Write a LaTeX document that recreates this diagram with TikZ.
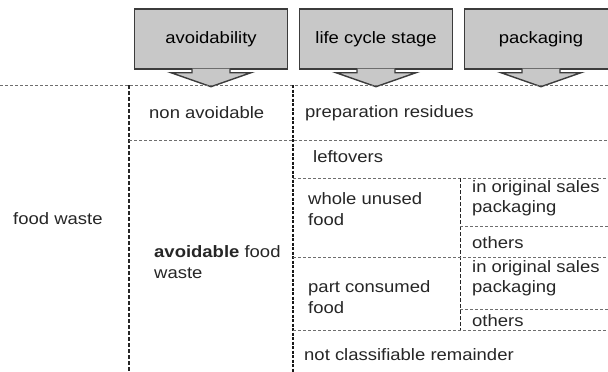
\documentclass[tikz,border=0pt]{standalone}
\usepackage{fontspec}
\setmainfont[FakeStretch=1.12]{Liberation Sans}
\usetikzlibrary{calc}
\definecolor{hdrfill}{RGB}{200,200,200}
\definecolor{hdrline}{RGB}{60,60,60}
\definecolor{gridgray}{RGB}{110,110,110}
\tikzset{every picture/.style={x=1pt,y=-1pt}}

\begin{document}
\begin{tikzpicture}[font=\fontsize{16.5}{20.5}\selectfont,
  hdr/.style={minimum width=153pt,minimum height=60pt,inner sep=0pt,fill=hdrfill,draw=hdrline,line width=1.4pt},
  txt/.style={anchor=west,inner sep=0pt,align=left,text=black!85},
  hline/.style={gridgray,line width=0.9pt,dash pattern=on 3pt off 2pt},
  vline/.style={black!85,line width=1.3pt,dash pattern=on 4pt off 2pt},
  vthick/.style={black!90,line width=2pt,dash pattern=on 3pt off 1.5pt}]
\useasboundingbox (0,0) rectangle (608,372);

% header boxes with down arrows
\foreach \x/\n/\t in {211/avoid/avoidability, 376/stage/life cycle stage, 541/pack/packaging} {
\node (\n) at (\x,39) [hdr] {\t};
\draw[fill=hdrfill,draw=hdrline,line width=1.4pt,line join=miter]
  ($(\n.south)+(-19,-1)$) -- ($(\n.south)+(-19,3)$) -- ($(\n.south)+(-40,3)$)
  -- ($(\n.south)+(0,17)$) -- ($(\n.south)+(40,3)$) -- ($(\n.south)+(19,3)$)
  -- ($(\n.south)+(19,-1)$);
}

% grid
\draw[hline] (0,85) -- (608,85);
\draw[vline] (129,85) -- (129,372);
\draw[vthick] (293,85) -- (293,372);
\draw[hline] (129,140) -- (608,140);
\draw[hline] (293,178) -- (608,178);
\draw[vline,line width=1pt] (460,178) -- (460,330);
\draw[hline] (460,226) -- (608,226);
\draw[hline] (293,257) -- (608,257);
\draw[hline] (460,309) -- (608,309);
\draw[hline] (293,330) -- (608,330);

% labels
\node (fw) at (13,219) [txt] {food waste};
\node (nav) at (149,113) [txt] {non avoidable};
\node (av) at (154,262) [txt] {\textbf{avoidable} food\\waste};
\node (prep) at (305,113) [txt] {preparation residues};
\node (left) at (313,157) [txt] {leftovers};
\node (whole) at (308,209) [txt] {whole unused\\food};
\node (orig1) at (472,198) [txt] {in original sales\\packaging};
\node (oth1) at (472,243) [txt] {others};
\node (part) at (308,297) [txt] {part consumed\\food};
\node (orig2) at (472,278) [txt] {in original sales\\packaging};
\node (oth2) at (472,321) [txt] {others};
\node (rest) at (304,355) [txt] {not classifiable remainder};

\end{tikzpicture}
\end{document}
